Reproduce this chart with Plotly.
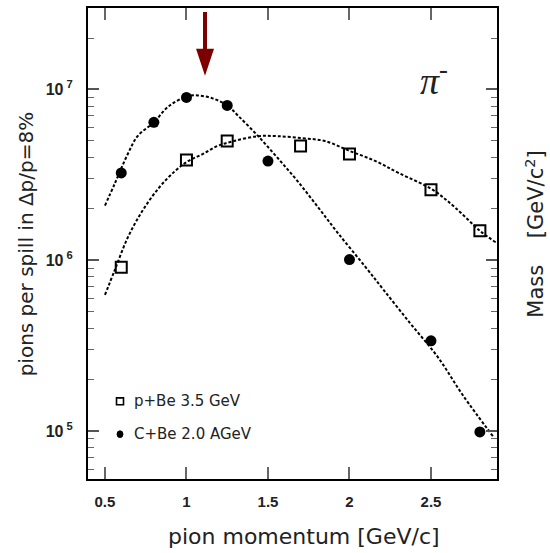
import plotly.graph_objects as go

# Measured pion yields per spill (Delta p/p = 8%)
p_pbe = [0.6, 1.0, 1.25, 1.7, 2.0, 2.5, 2.8]
y_pbe = [9.1e5, 3.86e6, 4.99e6, 4.67e6, 4.19e6, 2.59e6, 1.49e6]

p_cbe = [0.6, 0.8, 1.0, 1.25, 1.5, 2.0, 2.5, 2.8]
y_cbe = [3.25e6, 6.42e6, 8.98e6, 8.07e6, 3.81e6, 1.01e6, 3.38e5, 9.9e4]

# Fitted yield curves (sampled)
fit_p_pbe = [0.50, 0.56, 0.64, 0.73, 0.83, 0.93, 1.01, 1.10, 1.19, 1.29, 1.44,
             1.56, 1.71, 1.85, 2.00, 2.16, 2.30, 2.51, 2.65, 2.80, 2.90]
fit_y_pbe = [6.27e5, 8.75e5, 1.36e6, 1.95e6, 2.65e6, 3.33e6, 3.81e6, 4.19e6,
             4.67e6, 4.99e6, 5.33e6, 5.33e6, 5.19e6, 4.99e6, 4.37e6, 3.81e6,
             3.25e6, 2.59e6, 2.03e6, 1.49e6, 1.27e6]

fit_p_cbe = [0.50, 0.56, 0.64, 0.70, 0.80, 0.89, 1.00, 1.07, 1.16, 1.25, 1.32,
             1.44, 1.56, 1.68, 1.81, 1.93, 2.10, 2.21, 2.37, 2.54, 2.70, 2.88]
fit_y_cbe = [2.09e6, 2.81e6, 4.19e6, 5.33e6, 6.43e6, 7.96e6, 9.10e6, 9.23e6,
             8.87e6, 8.07e6, 6.97e6, 5.33e6, 3.97e6, 2.92e6, 2.03e6, 1.44e6,
             9.10e5, 6.70e5, 4.31e5, 2.73e5, 1.60e5, 9.35e4]

x_ticks = [0.5, 1, 1.5, 2, 2.5]
x_ticktext = ["0.5", "1", "1.5", "2", "2.5"]
y_ticks = [1e5, 1e6, 1e7]
y_ticktext = ["10<sup> 5</sup>", "10<sup> 6</sup>", "10<sup> 7</sup>"]
y_minor = [6e4, 7e4, 8e4, 9e4] + [k * 1e5 for k in range(2, 10)] \
    + [k * 1e6 for k in range(2, 10)] + [2e7, 3e7]

label_pbe = "p+Be 3.5 GeV"
label_cbe = "C+Be 2.0 AGeV"

fig = go.Figure()

dash_line = dict(color="black", width=2, dash="3px,2px", shape="spline")
fig.add_trace(go.Scatter(x=fit_p_pbe, y=fit_y_pbe, mode="lines",
                         line=dash_line, showlegend=False, hoverinfo="skip"))
fig.add_trace(go.Scatter(x=fit_p_cbe, y=fit_y_cbe, mode="lines",
                         line=dash_line, showlegend=False, hoverinfo="skip"))

fig.add_trace(go.Scatter(x=p_pbe, y=y_pbe, mode="markers", name=label_pbe,
                         showlegend=False,
                         marker=dict(symbol="square-open", size=11, color="black",
                                     line=dict(width=2, color="black"))))
fig.add_trace(go.Scatter(x=p_cbe, y=y_cbe, mode="markers", name=label_cbe,
                         showlegend=False,
                         marker=dict(symbol="circle", size=11, color="black")))

# in-plot key: small symbols with labels
fig.add_shape(type="rect", xref="paper", yref="paper",
              x0=0.0697, x1=0.0868, y0=0.1575, y1=0.1723,
              line=dict(color="black", width=1.6))
fig.add_shape(type="circle", xref="paper", yref="paper",
              x0=0.0710, x1=0.0855, y0=0.0880, y1=0.1022,
              fillcolor="black", line=dict(color="black", width=1))

key_font = dict(family="DejaVu Sans", size=15, color="#222222")
fig.add_annotation(text=label_pbe, xref="paper", yref="paper", x=0.1076, y=0.1649,
                   xanchor="left", yanchor="middle", showarrow=False, font=key_font)
fig.add_annotation(text=label_cbe, xref="paper", yref="paper", x=0.1076, y=0.0951,
                   xanchor="left", yanchor="middle", showarrow=False, font=key_font)

# marker arrow (dark red), drawn in paper coordinates
arrow_col = "#7d0000"
fig.add_shape(type="rect", xref="paper", yref="paper",
              x0=0.2812, x1=0.2910, y0=0.9112, y1=0.9915,
              fillcolor=arrow_col, line=dict(width=0))
fig.add_shape(type="path", xref="paper", yref="paper",
              path="M 0.2641 0.9133 L 0.3081 0.9133 L 0.2861 0.8562 Z",
              fillcolor=arrow_col, line=dict(width=0))

text_font = dict(family="DejaVu Sans", color="#222222")

fig.add_annotation(text="pions per spill in \u0394p/p=8%", xref="paper", yref="paper",
                   x=-0.152, y=0.50, textangle=-90, showarrow=False,
                   xanchor="center", yanchor="middle",
                   font=dict(text_font, size=20))
fig.add_annotation(text="pion momentum [GeV/c]", xref="paper", yref="paper",
                   x=0.528, y=-0.123, showarrow=False,
                   xanchor="center", yanchor="middle",
                   font=dict(text_font, size=22))
fig.add_annotation(text="Mass    [GeV/c<sup>2</sup>]", xref="paper", yref="paper",
                   x=1.092, y=0.52, textangle=-90, showarrow=False,
                   xanchor="center", yanchor="middle",
                   font=dict(text_font, size=21))
fig.add_annotation(text="<i>\u03c0</i><sup>-</sup>", xref="paper", yref="paper",
                   x=0.846, y=0.852, showarrow=False,
                   xanchor="center", yanchor="middle",
                   font=dict(family="Liberation Serif", size=38, color="#222222"))

fig.update_xaxes(range=[0.396, 2.905], tickmode="array", tickvals=x_ticks,
                 ticktext=x_ticktext, ticks="inside", ticklen=12, tickwidth=1.5,
                 tickcolor="#666666", showline=True, linewidth=2, linecolor="black",
                 mirror="allticks", showgrid=False, zeroline=False,
                 ticklabelstandoff=8,
                 tickfont=dict(family="Liberation Sans", size=15, color="#222222",
                               weight="bold"))
fig.update_yaxes(type="log", range=[4.72, 7.477], tickmode="array", tickvals=y_ticks,
                 ticktext=y_ticktext, ticks="inside", ticklen=11, tickwidth=1.5,
                 tickcolor="#555555", showline=True, linewidth=2, linecolor="black",
                 mirror="allticks", showgrid=False, zeroline=False,
                 ticklabelstandoff=10,
                 minor=dict(tickmode="array", tickvals=y_minor, ticks="inside",
                            ticklen=6, tickwidth=1.2, tickcolor="#666666",
                            showgrid=False),
                 tickfont=dict(family="Liberation Sans", size=16, color="#222222",
                               weight="bold"))

fig.update_layout(
    width=550, height=553,
    margin=dict(l=88, r=53, t=6, b=74),
    paper_bgcolor="white", plot_bgcolor="white",
    showlegend=False,
)

fig.write_html("out.html")
